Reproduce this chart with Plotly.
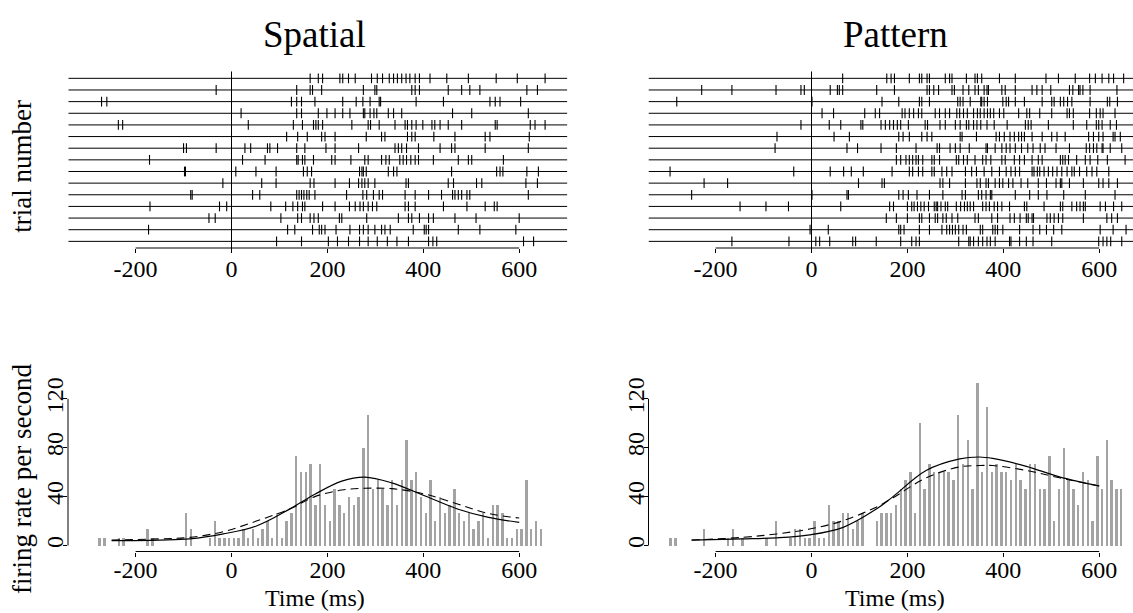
import plotly.graph_objects as go

# ---------------- data ----------------
tick_vals = [-200, 0, 200, 400, 600]
tick_text = ["-200", "0", "200", "400", "600"]
rate_ticks = [0, 40, 80, 120]
trial_window = [-340, 700]

spatial_spikes = [
    [164, 181, 190, 226, 232, 244, 258, 292, 304, 315, 329, 338, 346, 355, 364, 372, 383, 392, 414, 449, 494, 552, 596, 654],
    [-32, 136, 164, 169, 188, 275, 299, 303, 376, 383, 392, 452, 480, 497, 518, 616, 638],
    [-271, -260, 125, 136, 146, 174, 232, 260, 274, 289, 308, 311, 385, 442, 539, 550, 560, 603],
    [20, 136, 146, 181, 199, 216, 232, 247, 275, 278, 289, 297, 303, 327, 338, 355, 461, 501, 619],
    [-236, -227, 35, 129, 148, 171, 176, 181, 190, 251, 285, 290, 308, 341, 362, 367, 376, 385, 399, 418, 424, 435, 452, 480, 550, 554, 623, 633, 654],
    [115, 138, 158, 188, 195, 216, 281, 313, 320, 367, 376, 383, 422, 466, 529, 539, 621],
    [-100, -94, -32, 28, 40, 75, 80, 96, 136, 153, 197, 216, 265, 341, 348, 355, 365, 390, 435, 459, 466, 529, 619],
    [-171, 23, 70, 136, 139, 148, 153, 171, 209, 216, 249, 278, 285, 313, 322, 329, 351, 358, 365, 374, 383, 390, 421, 473, 494, 501, 567],
    [-98, -96, 9, 51, 93, 150, 158, 167, 267, 272, 275, 281, 327, 338, 345, 459, 553, 560, 566, 616, 640],
    [-18, 63, 93, 164, 172, 216, 246, 265, 272, 278, 285, 299, 364, 369, 452, 463, 511, 522, 614, 638],
    [-85, -82, 44, 59, 136, 141, 146, 151, 157, 162, 174, 240, 274, 282, 296, 308, 315, 362, 383, 411, 438, 461, 466, 473, 480, 491, 497, 619],
    [-170, -25, -10, 82, 113, 128, 138, 148, 153, 190, 216, 246, 258, 268, 275, 285, 294, 303, 362, 369, 383, 442, 491, 529, 548, 554],
    [-47, -34, 103, 138, 146, 164, 172, 181, 225, 230, 282, 348, 369, 376, 392, 411, 421, 466, 510, 600],
    [-173, 117, 132, 169, 183, 188, 195, 218, 247, 267, 275, 285, 299, 313, 320, 331, 379, 402, 406, 411, 473, 518, 593],
    [94, 146, 202, 221, 244, 267, 285, 304, 325, 345, 369, 411, 420, 428, 609, 630],
]

pattern_spikes = [
    [65, 157, 166, 173, 204, 225, 230, 241, 246, 279, 288, 293, 323, 341, 346, 355, 392, 425, 489, 515, 550, 580, 592, 606, 620, 630, 651],
    [-229, -166, -74, -22, -15, 39, 54, 58, 65, 136, 173, 241, 246, 255, 265, 293, 298, 316, 328, 341, 348, 360, 366, 369, 397, 404, 425, 460, 470, 481, 499, 538, 545, 557, 560, 566, 581, 637],
    [-281, 1, 147, 182, 225, 230, 246, 305, 310, 316, 331, 353, 355, 360, 367, 399, 406, 411, 425, 444, 481, 501, 506, 519, 526, 534, 543, 581, 617, 622, 638],
    [22, 46, 111, 133, 142, 189, 195, 204, 213, 223, 230, 258, 267, 279, 288, 303, 309, 317, 325, 338, 346, 352, 360, 367, 373, 380, 392, 401, 432, 449, 455, 476, 501, 533, 538, 546, 580, 594, 602, 608, 633],
    [-22, 37, 61, 103, 107, 145, 154, 163, 171, 179, 186, 202, 237, 242, 268, 279, 300, 310, 323, 328, 338, 345, 353, 366, 381, 408, 446, 452, 458, 494, 546, 574, 594, 599, 606, 623, 636],
    [-72, 47, 79, 182, 191, 204, 230, 241, 251, 310, 314, 344, 385, 392, 402, 414, 423, 432, 438, 444, 460, 481, 501, 512, 529, 578, 588, 599, 608, 629, 633, 644],
    [-76, 74, 96, 145, 177, 218, 262, 267, 289, 300, 310, 329, 364, 367, 383, 397, 406, 414, 425, 438, 451, 462, 477, 487, 510, 538, 573, 580, 588, 595, 606, 608, 623, 647],
    [177, 186, 197, 204, 211, 218, 223, 232, 251, 256, 267, 302, 307, 317, 325, 341, 357, 364, 374, 397, 404, 423, 434, 444, 460, 473, 481, 519, 524, 529, 536, 553, 571, 581, 597, 617, 654],
    [-295, -37, 39, 67, 83, 108, 168, 204, 211, 223, 232, 251, 256, 272, 282, 293, 321, 334, 344, 360, 376, 392, 406, 416, 425, 434, 460, 464, 471, 476, 485, 494, 503, 512, 522, 533, 543, 548, 559, 574, 585, 595, 620],
    [-224, -175, 98, 147, 152, 268, 274, 288, 321, 345, 352, 364, 369, 383, 392, 399, 411, 420, 437, 451, 473, 490, 510, 519, 522, 538, 567, 599, 608, 620, 638],
    [-250, 1, 74, 77, 182, 191, 202, 220, 246, 274, 314, 321, 348, 355, 364, 373, 376, 425, 455, 473, 491, 526, 571, 633],
    [-149, -95, -48, 61, 163, 171, 200, 209, 214, 221, 228, 235, 244, 256, 260, 263, 270, 279, 284, 302, 311, 319, 325, 331, 338, 357, 364, 371, 381, 388, 397, 413, 444, 449, 485, 519, 524, 543, 553, 560, 567, 571, 602, 613, 630, 647],
    [156, 177, 200, 225, 230, 246, 258, 263, 274, 281, 293, 305, 341, 348, 376, 388, 414, 423, 435, 448, 452, 460, 463, 491, 498, 506, 515, 524, 567, 616, 626, 638],
    [-3, 35, 182, 186, 193, 225, 246, 272, 282, 288, 294, 300, 307, 316, 323, 352, 357, 378, 383, 388, 399, 434, 462, 476, 490, 505, 522, 602, 629, 656],
    [-166, -47, 9, 17, 38, 86, 92, 135, 186, 209, 218, 225, 307, 328, 331, 338, 348, 357, 366, 373, 383, 413, 416, 434, 448, 462, 501, 599, 608, 616, 624, 647],
]

# histogram: 10 ms bins, values = spike counts per bin (1 count = 6.667 spikes/s)
spatial_bin_centers = list(range(-275, 650, 10))
spatial_counts = [1, 1, 0, 0, 1, 1, 0, 0, 0, 0, 2, 1, 0, 0, 0, 0, 0, 0, 4, 2,
                  0, 0, 0, 1, 3, 1, 1, 1, 1, 1, 2, 1, 2, 1, 2, 3, 1, 4, 1, 3,
                  4, 11, 9, 9, 10, 5, 10, 5, 3, 7, 5, 4, 6, 5, 6, 12, 16, 7, 8, 7,
                  5, 8, 5, 8, 13, 8, 9, 6, 4, 8, 3, 6, 4, 5, 7, 4, 3, 4, 2, 3,
                  4, 1, 5, 5, 4, 1, 1, 2, 2, 8, 2, 3, 2]
pattern_bin_centers = list(range(-295, 650, 10))
pattern_counts = [1, 1, 0, 0, 0, 0, 0, 2, 0, 0, 0, 0, 1, 2, 0, 1, 0, 0, 0, 0,
                  1, 0, 3, 0, 0, 1, 2, 2, 1, 1, 3, 1, 1, 5, 3, 3, 4, 4, 2, 3,
                  4, 0, 0, 3, 4, 4, 4, 5, 7, 8, 9, 4, 15, 7, 10, 9, 9, 9, 9, 8,
                  16, 10, 13, 7, 20, 9, 17, 9, 10, 9, 9, 8, 10, 8, 7, 10, 10, 7, 7, 11,
                  3, 7, 12, 8, 7, 5, 9, 8, 3, 11, 7, 13, 8, 7, 7]
rate_per_count = 6.667

# smooth rate estimates
spatial_fit_t = [-250, -150, -87, -17, 52, 122, 174, 230, 278, 334, 404, 473, 536, 600]
spatial_fit_solid = [4, 4.5, 5.4, 9.5, 16, 30, 42, 52.7, 56, 51.3, 40.5, 29.7, 23, 19]
spatial_fit_dash = [4.5, 5.5, 6.7, 11.4, 20, 30, 40, 45.4, 46.8, 46.5, 42, 33.8, 26.2, 22.5]
pattern_fit_t = [-250, -143, -73, -4, 66, 136, 170, 239, 309, 350, 378, 448, 517, 600]
pattern_fit_solid = [4.5, 5.4, 6.3, 8.7, 14.9, 30, 40, 61.3, 70.8, 72.4, 71.2, 64.7, 56.2, 48.7]
pattern_fit_dash = [4.5, 6.7, 9.5, 13.5, 20.3, 31.6, 39, 55.4, 64.3, 65.4, 65.4, 61.4, 55.4, 48.7]

# ---------------- layout helpers (pixel geometry) ----------------
W, H = 1133, 613
S = 0.4795          # px per ms
ROW = 11.74         # px per trial row
RS = 1.2333         # px per spike/s
FONT = "Liberation Serif"


def xdom(a, b):
    return [a / W, b / W]


def ydom(top, bot):
    return [1 - bot / H, 1 - top / H]


panels = [
    dict(zero=231.5, left=68.0, right=570.0),
    dict(zero=811.5, left=648.5, right=1133.0),
]
ras_top, ras_bot, ras_row1 = 60.0, 245.0, 238.3
his_top, his_bot, his_zero = 380.0, 551.0, 545.0

fig = go.Figure()

axis_common = dict(showgrid=False, zeroline=False, showline=False,
                   tickfont=dict(family=FONT, size=24, color="black"),
                   ticks="outside", ticklen=4, tickwidth=1, tickcolor="black")

datasets = [
    (spatial_spikes, spatial_bin_centers, spatial_counts, spatial_fit_t, spatial_fit_solid, spatial_fit_dash),
    (pattern_spikes, pattern_bin_centers, pattern_counts, pattern_fit_t, pattern_fit_solid, pattern_fit_dash),
]

ntr = len(spatial_spikes)
for p, (pan, data) in enumerate(zip(panels, datasets)):
    spikes, centers, counts, ft, fs, fd = data
    xr = [(pan["left"] - pan["zero"]) / S, (pan["right"] - pan["zero"]) / S]
    xa_r = f"x{2 * p + 1}" if p else "x"
    ya_r = f"y{2 * p + 1}" if p else "y"
    xa_h = f"x{2 * p + 2}"
    ya_h = f"y{2 * p + 2}"

    # raster rows
    lx, ly, sx, sy = [], [], [], []
    for i, tr in enumerate(spikes):
        yv = ntr - i
        lx += [trial_window[0], trial_window[1], None]
        ly += [yv, yv, None]
        sx += tr
        sy += [yv] * len(tr)
    fig.add_trace(go.Scatter(x=lx, y=ly, mode="lines", line=dict(color="black", width=1),
                             xaxis=xa_r, yaxis=ya_r, showlegend=False, hoverinfo="skip"))
    fig.add_trace(go.Scatter(x=sx, y=sy, mode="markers",
                             marker=dict(symbol="line-ns", size=7, line=dict(color="black", width=1.1)),
                             xaxis=xa_r, yaxis=ya_r, showlegend=False, cliponaxis=False))

    # histogram
    fig.add_trace(go.Bar(x=centers, y=[c * rate_per_count for c in counts], width=5,
                         marker=dict(color="#a3a3a3", line=dict(width=0)),
                         xaxis=xa_h, yaxis=ya_h, showlegend=False))
    fig.add_trace(go.Scatter(x=ft, y=fd, mode="lines", line=dict(color="black", width=1.1, dash="8px,5px", shape="spline"),
                             xaxis=xa_h, yaxis=ya_h, showlegend=False))
    fig.add_trace(go.Scatter(x=ft, y=fs, mode="lines", line=dict(color="black", width=1.2, shape="spline"),
                             xaxis=xa_h, yaxis=ya_h, showlegend=False))

    yr_r = [1 - (ras_bot - ras_row1) / ROW, 1 + (ras_row1 - ras_top) / ROW]
    yr_h = [-(his_bot - his_zero) / RS, (his_zero - his_top) / RS]

    kx_r = "xaxis" if p == 0 else f"xaxis{2 * p + 1}"
    ky_r = "yaxis" if p == 0 else f"yaxis{2 * p + 1}"
    kx_h = f"xaxis{2 * p + 2}"
    ky_h = f"yaxis{2 * p + 2}"
    fig.update_layout({
        kx_r: dict(axis_common, domain=xdom(pan["left"], pan["right"]), range=xr, anchor=ya_r,
                   tickvals=tick_vals, ticktext=tick_text, ticklabelstandoff=-5),
        ky_r: dict(showgrid=False, zeroline=False, showline=False, showticklabels=False, ticks="",
                   domain=ydom(ras_top, ras_bot), range=yr_r, anchor=xa_r),
        kx_h: dict(axis_common, domain=xdom(pan["left"], pan["right"]), range=xr, anchor=ya_h,
                   tickvals=tick_vals, ticktext=tick_text, ticklabelstandoff=-7),
        ky_h: dict(axis_common, domain=ydom(his_top, his_bot), range=yr_h, anchor=xa_h,
                   tickvals=rate_ticks, tickangle=-90, ticklabelstandoff=-10),
    })
    # R-style axis lines
    fig.add_shape(type="line", xref=xa_r, yref=f"{ya_r} domain", x0=tick_vals[0], x1=tick_vals[-1], y0=0, y1=0,
                  line=dict(color="black", width=1))
    fig.add_shape(type="line", xref=xa_r, yref=f"{ya_r} domain", x0=0, x1=0, y0=-0.012, y1=0.962,
                  line=dict(color="black", width=1))
    fig.add_shape(type="line", xref=xa_h, yref=f"{ya_h} domain", x0=tick_vals[0], x1=tick_vals[-1], y0=0, y1=0,
                  line=dict(color="black", width=1))
    fig.add_shape(type="line", xref=f"{xa_h} domain", yref=ya_h, x0=0, x1=0, y0=rate_ticks[0], y1=rate_ticks[-1],
                  line=dict(color="black", width=1))

annots = [
    dict(text="Spatial", x=315 / W, y=1 - 30 / H, font=dict(size=37)),
    dict(text="Pattern", x=895 / W, y=1 - 30 / H, font=dict(size=37)),
    dict(text="trial number", x=22 / W, y=1 - 163 / H, textangle=-90, font=dict(size=27)),
    dict(text="firing rate per second", x=22 / W, y=1 - 478 / H, textangle=-90, font=dict(size=27)),
    dict(text="Time (ms)", x=315 / W, y=1 - 598 / H, font=dict(size=24)),
    dict(text="Time (ms)", x=895 / W, y=1 - 598 / H, font=dict(size=24)),
]
for a in annots:
    a["font"] = dict(family=FONT, color="black", **a["font"])
    fig.add_annotation(xref="paper", yref="paper", showarrow=False, xanchor="center", yanchor="middle", **a)

fig.update_layout(width=W, height=H, margin=dict(l=0, r=0, t=0, b=0),
                  paper_bgcolor="white", plot_bgcolor="white", bargap=0,
                  font=dict(family=FONT, color="black"))

fig.write_html("out.html", config={"displayModeBar": False},
               post_script="document.body.style.margin='0';document.body.style.overflow='hidden';")
